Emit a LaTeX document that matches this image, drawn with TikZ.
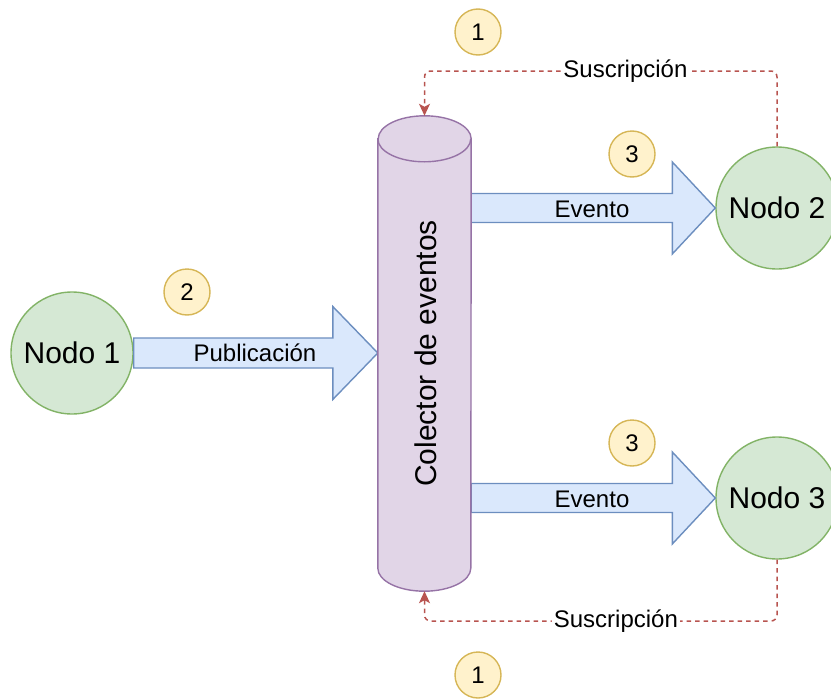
\documentclass[tikz,border=0pt]{standalone}
\usepackage{fontspec}
\setmainfont{Liberation Sans}
\usetikzlibrary{arrows.meta,calc}

\definecolor{nodefill}{HTML}{D5E8D4}
\definecolor{nodeline}{HTML}{82B366}
\definecolor{arrfill}{HTML}{DAE8FC}
\definecolor{arrline}{HTML}{6C8EBF}
\definecolor{colfill}{HTML}{E1D5E7}
\definecolor{colline}{HTML}{9673A6}
\definecolor{badgefill}{HTML}{FFF2CC}
\definecolor{badgeline}{HTML}{D6B656}
\definecolor{subline}{HTML}{B85450}

\tikzset{
  peer/.style={circle, fill=nodefill, draw=nodeline, line width=1.4pt,
    minimum size=122pt, inner sep=0pt, font=\fontsize{30}{34}\selectfont},
  badge/.style={circle, fill=badgefill, draw=badgeline, line width=1.4pt,
    minimum size=46pt, inner sep=0pt, font=\fontsize{24}{28}\selectfont},
  blockarr/.style={fill=arrfill, draw=arrline, line width=1.4pt, line join=miter},
  arrlabel/.style={inner sep=0pt, font=\fontsize{24}{28}\selectfont},
  cylbody/.style={fill=colfill, draw=colline, line width=1.4pt},
  sub/.style={draw=subline, line width=1.5pt, dash pattern=on 4.5pt off 4pt,
    rounded corners=6pt, -{Stealth[length=12pt, width=11pt, inset=3pt]}},
  sublabel/.style={fill=white, inner sep=2pt, font=\fontsize{24}{28}\selectfont},
}

% horizontal block arrow: tail point, tip point, shaft half width, head half width, head length
\newcommand\blockarrow[5]{%
  \draw[blockarr] let \p1=(#1), \p2=(#2) in
    (\x1,\y1+#3) -- (\x2-#5,\y1+#3) -- (\x2-#5,\y1+#4) -- (\x2,\y1)
    -- (\x2-#5,\y1-#4) -- (\x2-#5,\y1-#3) -- (\x1,\y1-#3) -- cycle;}

\begin{document}
\begin{tikzpicture}[x=1pt, y=1pt]
  \useasboundingbox (0,0) rectangle (831,-699);
  \clip (0,0) rectangle (831,-699);

  % peers
  \node[peer] (n1) at (72,-353) {Nodo 1};
  \node[peer] (n2) at (777,-208) {Nodo 2};
  \node[peer] (n3) at (777,-498) {Nodo 3};

  % frame of the event collector
  \node[minimum width=93pt, minimum height=475pt, inner sep=0pt] (col) at (424.5,-353.5) {};

  % block arrows
  \coordinate (pubtip) at (col.west |- n1);
  \coordinate (ev2tail) at (col.east |- n2);
  \coordinate (ev3tail) at (col.east |- n3);
  \blockarrow{n1.east}{pubtip}{15}{46.5}{45}
  \blockarrow{ev2tail}{n2.west}{14.5}{46}{43}
  \blockarrow{ev3tail}{n3.west}{14.5}{46}{43}
  \node[arrlabel] (publ) at (255,-353) {Publicación};
  \node[arrlabel] (ev2) at (592,-209) {Evento};
  \node[arrlabel] (ev3) at (592,-499) {Evento};

  % event collector (cylinder)
  \filldraw[cylbody] ([yshift=-23pt]col.north west) -- ([yshift=23pt]col.south west)
    arc[start angle=180, end angle=360, x radius=46.5pt, y radius=23pt]
    -- ([yshift=-23pt]col.north east)
    arc[start angle=0, end angle=180, x radius=46.5pt, y radius=23pt] -- cycle;
  \draw[cylbody, fill=none] ([yshift=-23pt]col.north west)
    arc[start angle=180, end angle=360, x radius=46.5pt, y radius=23pt];
  \node[rotate=90, inner sep=0pt, font=\fontsize{30}{34}\selectfont] (coltext)
    at ([xshift=1.5pt]col.center) {Colector de eventos};

  % subscriptions
  \coordinate (topbend) at (0,-71);
  \coordinate (botbend) at (0,-621);
  \draw[sub] (n2.north) -- (n2.north |- topbend)
    -- node[sublabel, pos=0.43] (sub2) {Suscripción} (col.north |- topbend) -- (col.north);
  \draw[sub] (n3.south) -- (n3.south |- botbend)
    -- node[sublabel, pos=0.457] (sub3) {Suscripción} (col.south |- botbend) -- (col.south);

  % step badges
  \node[badge] (b1a) at (478,-32) {1};
  \node[badge] (b2) at (187,-292) {2};
  \node[badge] (b3a) at (632,-154) {3};
  \node[badge] (b3b) at (632,-443) {3};
  \node[badge] (b1b) at (478,-675) {1};
\end{tikzpicture}
\end{document}
